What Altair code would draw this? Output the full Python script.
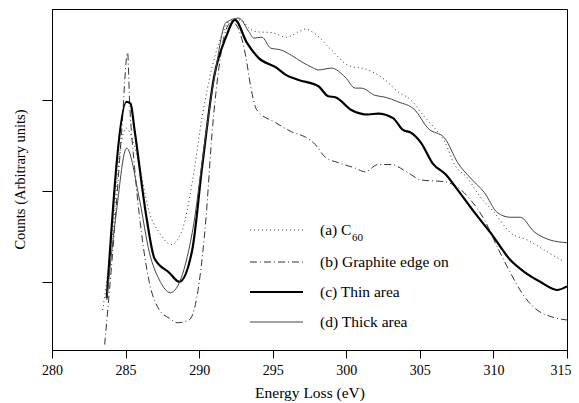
import altair as alt
import pandas as pd

FONT = "Liberation Serif"

# (a) C60 — dotted
c60_x = [283.45, 284.12, 284.73, 285.07, 285.47, 285.95, 286.62, 287.30, 288.11, 288.85,
         289.53, 290.20, 290.88, 291.69, 292.03, 292.84, 293.38, 293.92, 294.93, 295.95,
         296.76, 297.23, 297.77, 298.99, 300.14, 301.49, 302.64, 303.51, 304.39, 305.34,
         306.01, 306.69, 307.36, 308.24, 309.12, 310.07, 311.15, 312.30, 313.45, 314.80]
c60_y = [-0.31, 0.54, 1.56, 1.69, 1.56, 1.26, 0.76, 0.54, 0.41, 0.57,
         1.09, 1.81, 2.36, 2.77, 2.86, 2.88, 2.79, 2.75, 2.74, 2.69,
         2.75, 2.78, 2.74, 2.55, 2.38, 2.33, 2.22, 2.09, 2.00, 1.81,
         1.69, 1.54, 1.29, 1.14, 0.93, 0.76, 0.54, 0.46, 0.35, 0.22]

# (b) Graphite edge on — dash-dot
gr_x = [283.58, 284.19, 284.73, 285.14, 285.27, 285.61, 286.08, 286.62, 287.30, 287.97,
        288.51, 289.32, 290.00, 290.47, 290.88, 291.35, 291.82, 292.23, 292.70, 293.18,
        293.51, 293.92, 295.20, 296.28, 297.23, 297.77, 298.58, 299.46, 300.61, 301.28,
        302.16, 303.04, 304.19, 305.07, 306.69, 307.57, 308.45, 309.39, 310.27, 311.15,
        312.09, 312.97, 313.85, 315.00]
gr_y = [-0.69, 0.46, 1.64, 2.52, 2.00, 1.26, 0.54, -0.01, -0.31, -0.40,
        -0.45, -0.42, -0.01, 0.71, 1.64, 2.36, 2.77, 2.86, 2.77, 2.47,
        2.14, 1.89, 1.75, 1.65, 1.59, 1.53, 1.37, 1.31, 1.25, 1.21,
        1.29, 1.29, 1.20, 1.12, 1.10, 1.04, 0.90, 0.68, 0.38, 0.10,
        -0.16, -0.31, -0.38, -0.42]

# (c) Thin area — thick solid
thin_x = [283.72, 285.07, 285.34, 285.61, 286.42, 286.96, 287.97, 288.65, 289.53, 290.20,
          291.01, 291.82, 292.43, 293.24, 294.05, 295.20, 295.95, 296.76, 298.11, 298.78,
          299.26, 300.34, 301.49, 302.16, 303.18, 303.85, 304.39, 305.07, 305.88, 306.76,
          307.57, 308.72, 309.80, 311.15, 312.09, 313.18, 314.32, 315.00]
thin_y = [-0.18, 1.98, 1.96, 1.67, 0.71, 0.26, 0.10, 0.00, 0.35, 1.26,
          2.25, 2.69, 2.88, 2.63, 2.46, 2.36, 2.27, 2.22, 2.15, 2.04,
          2.03, 1.89, 1.84, 1.85, 1.80, 1.67, 1.64, 1.53, 1.30, 1.18,
          1.01, 0.76, 0.54, 0.24, 0.11, 0.00, -0.09, -0.05]

# (d) Thick area — thin solid
thick_x = [283.72, 284.39, 285.07, 285.95, 286.62, 287.30, 288.04, 288.65, 289.53, 290.47,
           291.15, 291.82, 292.70, 293.38, 293.72, 294.26, 294.86, 295.54, 296.28, 296.96,
           297.77, 298.11, 298.99, 299.93, 300.61, 301.01, 301.96, 302.64, 303.51, 304.66,
           305.54, 306.69, 307.57, 308.45, 309.39, 310.27, 311.15, 311.82, 312.77, 313.85,
           315.00]
thick_y = [-0.20, 0.79, 1.47, 0.90, 0.32, 0.02, -0.12, -0.01, 0.54, 1.64,
           2.36, 2.85, 2.90, 2.75, 2.68, 2.69, 2.57, 2.55, 2.49, 2.42,
           2.35, 2.33, 2.35, 2.25, 2.13, 2.13, 2.05, 2.03, 1.98, 1.89,
           1.69, 1.58, 1.31, 1.14, 0.98, 0.76, 0.71, 0.71, 0.55, 0.46,
           0.43]

x_ticks = [280, 285, 290, 295, 300, 305, 310, 315]
y_ticks = [0, 1, 2]

legend_labels = ["(a) C", "(b) Graphite edge on", "(c) Thin area", "(d) Thick area"]

xscale = alt.Scale(domain=[280, 315], nice=False, zero=False)
yscale = alt.Scale(domain=[-0.75, 3.0], nice=False, zero=False)

xaxis = alt.Axis(values=x_ticks, title="Energy Loss (eV)", grid=False,
                 tickSize=8, labelPadding=5, labelFontSize=14, titleFontSize=15.5,
                 labelFont=FONT, titleFont=FONT, titleFontWeight="normal",
                 labelFlush=False, labelOverlap=False,
                 labelAlign={"expr": "datum.value >= 315 ? 'right' : 'center'"},
                 labelOffset={"expr": "datum.value >= 315 ? 4 : 0"},
                 titleY=42, titleBaseline="middle", domainColor="black",
                 tickColor="black", labelColor="black", titleColor="black")
yaxis = alt.Axis(values=y_ticks, labels=False, title="Counts (Arbitrary units)",
                 grid=False, tickSize=10, titleFontSize=14.5, titleFont=FONT,
                 titleFontWeight="normal", titleX=-32, titleY=170,
                 titleAngle=270, titleAlign="center", titleBaseline="middle",
                 domainColor="black", tickColor="black", titleColor="black")


def series(xs, ys):
    return pd.DataFrame({"x": xs, "y": ys})


def line(df, dash=None, width=1.0, color="#222"):
    kw = dict(strokeWidth=width, color=color, clip=True, interpolate="monotone")
    if dash:
        kw["strokeDash"] = dash
    return alt.Chart(df).mark_line(**kw).encode(
        x=alt.X("x:Q", scale=xscale, axis=xaxis),
        y=alt.Y("y:Q", scale=yscale, axis=yaxis),
    )


styles = [
    dict(dash=[1, 3], width=1.0, color="#333"),
    dict(dash=[7, 3, 1, 3], width=1.0, color="#333"),
    dict(width=2.2, color="black"),
    dict(width=1.0, color="#444"),
]

layers = [
    line(series(c60_x, c60_y), **styles[0]),
    line(series(gr_x, gr_y), **styles[1]),
    line(series(thin_x, thin_y), **styles[2]),
    line(series(thick_x, thick_y), **styles[3]),
]

leg_y = [221, 253, 283, 313]
for lab, ly, st in zip(legend_labels, leg_y, styles):
    kw = dict(strokeWidth=st["width"], color=st["color"])
    if "dash" in st:
        kw["strokeDash"] = st["dash"]
    layers.append(alt.Chart().mark_rule(**kw).encode(
        x=alt.value(198), x2=alt.value(251), y=alt.value(ly)))
    layers.append(alt.Chart().mark_text(
        text=lab, align="left", baseline="middle", font=FONT, fontSize=15.5,
        color="black").encode(x=alt.value(268), y=alt.value(ly)))

layers.append(alt.Chart().mark_text(
    text="60", align="left", baseline="middle", font=FONT, fontSize=11,
    color="black").encode(x=alt.value(300), y=alt.value(leg_y[0] + 8)))

chart = alt.layer(*layers).properties(
    width=515, height=341, autosize="none",
    padding={"left": 44, "top": 1, "right": 4, "bottom": 52},
).configure_view(stroke="black", strokeWidth=1)

chart.save("out.html", embed_options={"renderer": "svg", "actions": False})
